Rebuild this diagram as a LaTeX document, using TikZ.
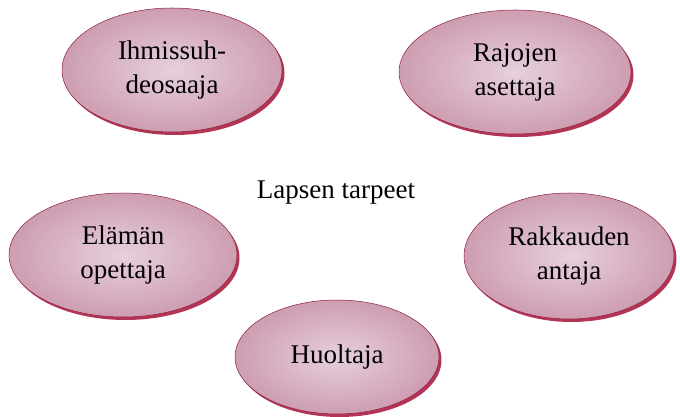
\documentclass[tikz,border=0pt]{standalone}
\usepackage{fontspec}
\setmainfont{Liberation Serif}
\usetikzlibrary{shapes.geometric,shadows}
\definecolor{rim}{HTML}{B02A4C}
\definecolor{pinkA}{HTML}{E6D0DE}
\definecolor{pinkB}{HTML}{CE9DB2}
\tikzset{
  role/.style={ellipse, minimum width=220pt, minimum height=124pt,
    inner sep=0pt, align=center, font=\fontsize{27}{34}\selectfont,
    draw=rim!80!black, line width=0.5pt,
    inner color=pinkA, outer color=pinkB,
    drop shadow={shadow xshift=2.5pt, shadow yshift=-3pt, fill=rim, opacity=0.95}},
}
\begin{document}
\begin{tikzpicture}[x=1pt,y=1pt]
\useasboundingbox (0,0) rectangle (680,417);
\fill[white] (0,0) rectangle (680,417);
\node[role] (ihm) at (172,347) {Ihmissuh-\\deosaaja};
\node[role, minimum width=232pt] (raj) at (515,345) {Rajojen\\asettaja};
\node[role, minimum width=228pt] (ela) at (123,162) {Elämän\\opettaja};
\node[role, minimum width=210pt, minimum height=126pt] (rak) at (569,161) {Rakkauden\\antaja};
\node[role, minimum width=204pt, minimum height=114pt] (huo) at (337,60) {Huoltaja};
\node[font=\fontsize{27}{34}\selectfont] (lap) at (336,224) {Lapsen tarpeet};
\end{tikzpicture}
\end{document}
